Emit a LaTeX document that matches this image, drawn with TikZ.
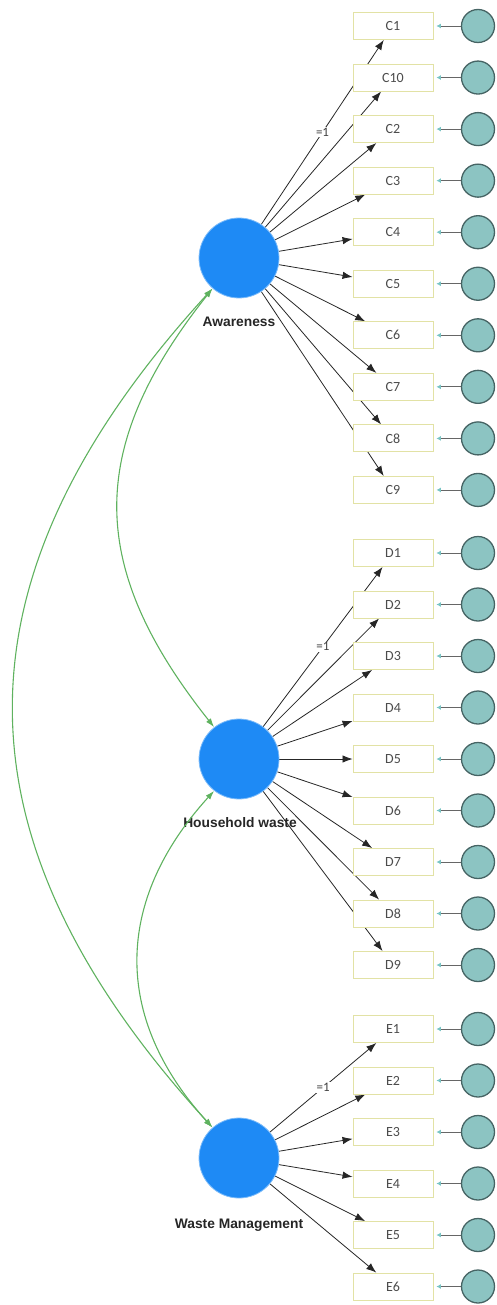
\documentclass[tikz,border=0pt]{standalone}
\usepackage{fontspec}
\setmainfont{Liberation Sans}
\newfontfamily\boxfont{Carlito}
\usetikzlibrary{arrows.meta,backgrounds}
\definecolor{latentblue}{RGB}{30,138,245}
\definecolor{latentedge}{RGB}{125,188,250}
\definecolor{boxedge}{RGB}{226,226,165}
\definecolor{errfill}{RGB}{140,196,194}
\definecolor{erredge}{RGB}{70,100,100}
\definecolor{errtip}{RGB}{120,196,196}
\definecolor{covgreen}{RGB}{95,178,95}

\begin{document}
\begin{tikzpicture}[x=1pt,y=-1pt]
	\tikzstyle{latent} = [circle,fill=latentblue,draw=latentedge,line width=0.8pt,minimum size=80pt,inner sep=0pt]
	\tikzstyle{latentname} = [font=\bfseries\fontsize{13.8}{15}\selectfont,text=black!85]
	\tikzstyle{indicator} = [rectangle,draw=boxedge,fill=white,line width=0.9pt,minimum width=80pt,minimum height=27pt,inner sep=0pt,font=\boxfont\fontsize{14}{15}\selectfont,text=black!70]
	\tikzstyle{error} = [circle,draw=erredge,fill=errfill,line width=1.3pt,minimum size=33pt,inner sep=0pt]
	\tikzstyle{loading} = [-{Latex[length=10pt,width=7.5pt]},draw=black!85,line width=0.8pt]
	\tikzstyle{errpath} = [-{Latex[length=4.5pt,width=5pt,color=errtip]},draw=gray!80!black,line width=0.8pt,shorten >=3pt]
	\tikzstyle{cov} = [{Latex[length=9pt,width=6pt]}-{Latex[length=9pt,width=6pt]},draw=covgreen,line width=1.1pt]
	\tikzstyle{fixed} = [fill=white,inner sep=1pt,font=\boxfont\fontsize{13}{14}\selectfont,text=black!75]
	\useasboundingbox (0,0) rectangle (496,1305);
	% latent variables
	\node[latent] (aware) at (239,258) {};
	\node[latentname] (awarelabel) at (239,322) {Awareness};
	\node[latent] (house) at (239,759) {};
	\node[latentname] (houselabel) at (240,823) {Household waste};
	\node[latent] (waste) at (239,1158) {};
	\node[latentname] (wastelabel) at (239,1225) {Waste Management};
	% awareness items
	\foreach \ind [count=\i] in {C1,C10,C2,C3,C4,C5,C6,C7,C8,C9} {
		\node[indicator] (\ind) at (393,{26+(\i-1)*51.55}) {\ind};
		\node[error] (e\ind) at (478,{26+(\i-1)*51.55}) {};
		\draw[errpath] (e\ind) -- (\ind);
	}
	% household waste items
	\foreach \ind [count=\i] in {D1,D2,D3,D4,D5,D6,D7,D8,D9} {
		\node[indicator] (\ind) at (393,{553+(\i-1)*51.5}) {\ind};
		\node[error] (e\ind) at (478,{553+(\i-1)*51.5}) {};
		\draw[errpath] (e\ind) -- (\ind);
	}
	% waste management items
	\foreach \ind [count=\i] in {E1,E2,E3,E4,E5,E6} {
		\node[indicator] (\ind) at (393,{1029+(\i-1)*51.5}) {\ind};
		\node[error] (e\ind) at (478,{1029+(\i-1)*51.5}) {};
		\draw[errpath] (e\ind) -- (\ind);
	}
	% loadings, behind the boxes
	\begin{pgfonlayer}{background}
		\draw[loading] (aware) -- node[fixed] (fixC) {=1} (C1);
		\foreach \ind in {C10,C2,C3,C4,C5,C6,C7,C8,C9}
			\draw[loading] (aware) -- (\ind);
		\draw[loading] (house) -- node[fixed] (fixD) {=1} (D1);
		\foreach \ind in {D2,D3,D4,D5,D6,D7,D8,D9}
			\draw[loading] (house) -- (\ind);
		\draw[loading] (waste) -- node[fixed] (fixE) {=1} (E1);
		\foreach \ind in {E2,E3,E4,E5,E6}
			\draw[loading] (waste) -- (\ind);
	\end{pgfonlayer}
	% covariances
	\draw[cov] (aware.229) .. controls +(-127,160) and +(-127,-160) .. (house.128);
	\draw[cov] (aware.229) .. controls +(-265,290) and +(-265,-290) .. (waste.131);
	\draw[cov] (house.232) .. controls +(-100,110) and +(-100,-110) .. (waste.131);
\end{tikzpicture}
\end{document}
